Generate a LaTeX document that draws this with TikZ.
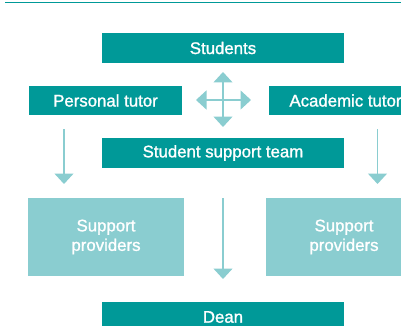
\documentclass[tikz,border=0pt]{standalone}
\usepackage{fontspec}
\setmainfont{Liberation Sans}[BoldFont={Liberation Sans},
  BoldFeatures={FakeBold=1.3}]
\usetikzlibrary{arrows.meta,calc}

\definecolor{teal}{RGB}{0,153,152}
\definecolor{lightteal}{RGB}{138,205,208}

\begin{document}
\begin{tikzpicture}[
  x=1pt, y=-1pt,
  font=\bfseries\fontsize{16.8}{19.5}\selectfont,
  box/.style={fill=teal, text=white, inner sep=0pt, align=center,
              minimum width=242pt, minimum height=30pt},
  tutor/.style={box, minimum width=153pt, minimum height=29pt},
  provider/.style={fill=lightteal, text=white, inner sep=0pt, align=center,
                   minimum width=156pt, minimum height=78pt},
  flow/.style={draw=lightteal, line width=1.5pt,
               -{Triangle[width=19pt,length=10.5pt]}}
]
\useasboundingbox (0,0) rectangle (401,326);
\clip (0,0) rectangle (401,326);

% rule along the top
\draw[teal, line width=1pt] (5,2.7) -- (401,2.7);

% boxes
\node[box] (students) at (223,48) {Students};
\node[tutor] (personal) at (105.5,100.5) {Personal tutor};
\node[tutor] (academic) at (345.5,100.5) {Academic tutor};
\node[box] (team) at (223,153) {Student support team};
\node[provider] (provleft) at (106,237) {Support\\providers};
\node[provider] (provright) at (344,237) {Support\\providers};
\node[box] (dean) at (223,317) {Dean};

% four-way arrow between the tutors
\coordinate (hub) at (223,100);
\coordinate (hubup) at (223,72);
\coordinate (hubdown) at (223,127);
\coordinate (hubleft) at (196,100);
\coordinate (hubright) at (251,100);
\foreach \tip in {hubup,hubdown,hubleft,hubright}
  \draw[flow] (hub) -- (\tip);

% arrows down to the providers and the dean
\coordinate (pfrom) at (64,129);
\coordinate (pto) at (64,184);
\coordinate (afrom) at (377.5,129);
\coordinate (ato) at (377.5,184);
\coordinate (dfrom) at (223,198);
\coordinate (dto) at (223,279);
\draw[flow] (pfrom) -- (pto);
\draw[flow] (afrom) -- (ato);
\draw[flow] (dfrom) -- (dto);

\end{tikzpicture}
\end{document}
